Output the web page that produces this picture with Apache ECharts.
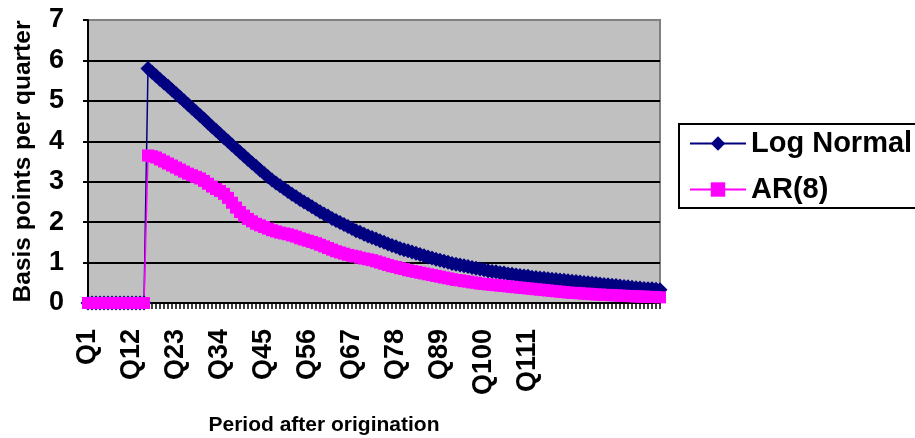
<!DOCTYPE html>
<html><head><meta charset="utf-8">
<script src="https://cdn.jsdelivr.net/npm/echarts@6/dist/echarts.min.js"></script>
<style>html,body{margin:0;padding:0;background:#fff}#c{width:915px;height:438px}</style>
</head><body><div id="c"></div><script>
// Categories Q1..Q144 (quarters after origination)
const categories = [];
for (let i = 1; i <= 144; i++) categories.push('Q' + i);
const shownXLabels = ['Q1','Q12','Q23','Q34','Q45','Q56','Q67','Q78','Q89','Q100','Q111'];
const yTicks = [0, 1, 2, 3, 4, 5, 6, 7];
const seriesNames = ['Log Normal', 'AR(8)'];

const logNormal = [
  0,0,0,0,0,0,0,0,0,0,0,0,0,0,0,
  5.80,5.71,5.62,5.53,5.44,5.36,5.27,5.18,5.09,5.00,
  4.91,4.82,4.73,4.64,4.55,4.45,4.36,4.27,4.18,4.09,4.00,
  3.91,3.82,3.73,3.64,3.55,3.46,3.38,3.29,3.21,3.12,3.04,
  2.97,2.90,2.83,2.76,2.69,2.63,2.56,2.50,2.44,2.38,2.32,2.26,2.20,2.15,2.09,2.04,1.99,
  1.94,1.89,1.84,1.79,1.75,1.70,1.66,1.62,1.58,1.54,1.50,1.46,1.42,1.39,1.35,1.32,1.29,1.26,1.23,1.20,1.17,1.14,1.11,1.08,1.06,1.03,1.01,
  0.98,0.96,0.94,0.92,0.90,0.88,0.86,0.84,0.82,0.80,0.78,0.77,0.75,0.74,0.72,0.71,0.69,0.68,0.67,0.66,0.64,0.63,0.62,0.61,0.60,0.59,
  0.58,0.57,0.56,0.55,0.54,0.53,0.52,0.51,0.50,0.49,0.48,0.47,0.46,0.45,0.44,0.43,0.42,0.41,0.40,0.39,0.38,0.37,0.36,0.35,0.35,0.34,0.33
];

const ar8 = [
  0,0,0,0,0,0,0,0,0,0,0,0,0,0,0,
  3.65,3.63,3.60,3.55,3.50,3.45,3.40,3.35,3.30,3.25,3.20,
  3.16,3.12,3.08,3.02,2.95,2.88,2.82,2.77,2.70,2.60,
  2.48,2.36,2.25,2.16,2.08,2.02,1.96,1.92,1.88,1.84,
  1.80,1.77,1.74,1.72,1.70,1.67,1.64,1.60,1.57,1.54,
  1.51,1.48,1.44,1.40,1.36,1.32,1.28,1.25,1.22,1.19,
  1.17,1.15,1.12,1.10,1.08,1.06,1.03,1.00,0.97,0.94,
  0.91,0.89,0.86,0.84,0.81,0.79,0.77,0.75,0.73,0.71,
  0.69,0.67,0.65,0.63,0.61,0.59,0.57,0.56,0.54,0.53,
  0.51,0.50,0.48,0.47,0.46,0.45,0.44,0.43,0.42,0.41,
  0.40,0.39,0.38,0.37,0.36,0.35,0.34,0.33,0.32,0.31,0.30,0.29,
  0.28,0.27,0.26,0.25,0.25,0.24,0.23,0.23,0.22,0.21,0.21,0.20,0.20,0.19,0.19,0.18,0.18,0.17,0.17,0.16,0.16,0.16,0.15,0.15,0.15,0.14
];

const FONT = '"Liberation Sans", Arial, sans-serif';
const chart = echarts.init(document.getElementById('c'), null, {renderer: 'canvas'});
chart.setOption({
  animation: false,
  textStyle: {fontFamily: FONT},
  grid: {left: 88, right: 255, top: 20, bottom: 135, show: true, outerBoundsMode: 'none', containLabel: false,
         backgroundColor: '#C0C0C0', borderColor: '#808080', borderWidth: 2},
  graphic: [{
    type: 'rect', silent: true,
    shape: {x: 679, y: 124, width: 270, height: 84},
    style: {fill: 'none', stroke: '#000', lineWidth: 2}
  }],
  legend: {
    data: seriesNames, orient: 'vertical', left: 679, top: 124,
    itemWidth: 56, itemHeight: 18, itemGap: 17,
    padding: [5, 4, 7, 10], borderWidth: 0,
    textStyle: {fontSize: 29, fontWeight: 'bold', color: '#000', fontFamily: FONT, lineHeight: 26}
  },
  xAxis: {
    type: 'category', data: categories, boundaryGap: false,
    axisLine: {show: true, lineStyle: {color: '#000', width: 2}},
    axisTick: {show: true, interval: 0, length: 6, lineStyle: {color: '#000', width: 1.5}},
    axisLabel: {
      interval: (idx, val) => shownXLabels.includes(val),
      rotate: 90, fontSize: 27, fontWeight: 'bold', color: '#000', fontFamily: FONT, margin: 26
    },
    splitLine: {show: false},
    name: 'Period after origination', nameLocation: 'middle', nameGap: 112,
    nameTextStyle: {fontSize: 21, fontWeight: 'bold', color: '#000', fontFamily: FONT, padding: [0, 100, 0, 0]}
  },
  yAxis: {
    type: 'value', min: yTicks[0], max: yTicks[yTicks.length - 1], interval: 1,
    axisLine: {show: true, lineStyle: {color: '#000', width: 2}},
    axisTick: {show: true, length: 5, lineStyle: {color: '#000', width: 2}},
    axisLabel: {fontSize: 27, fontWeight: 'bold', color: '#000', fontFamily: FONT, margin: 24},
    splitLine: {show: true, lineStyle: {color: ['#000','#000','#000','#000','#000','#000','#000','#808080'], width: 2}},
    name: 'Basis points per quarter', nameLocation: 'middle', nameGap: 52,
    nameTextStyle: {fontSize: 24.5, fontWeight: 'bold', color: '#000', fontFamily: FONT}
  },
  series: [
    {name: seriesNames[0], type: 'line', data: logNormal, symbol: 'diamond', symbolSize: 15,
     showAllSymbol: true, clip: false, lineStyle: {color: '#000080', width: 1.5},
     itemStyle: {color: '#000080'}},
    {name: seriesNames[1], type: 'line', data: ar8, symbol: 'rect', symbolSize: 12,
     showAllSymbol: true, clip: false, lineStyle: {color: '#FF00FF', width: 1.5},
     itemStyle: {color: '#FF00FF'}}
  ]
});
</script></body></html>
